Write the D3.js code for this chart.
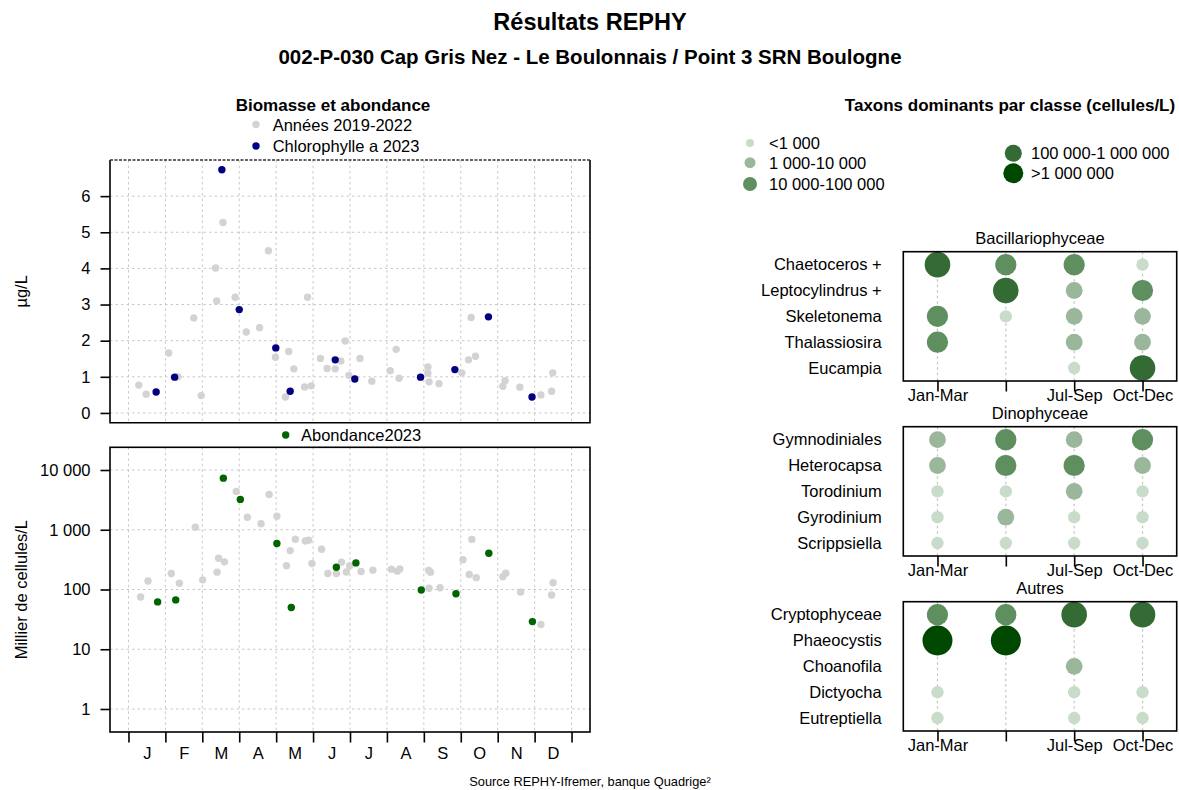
<!DOCTYPE html>
<html><head><meta charset="utf-8">
<script src="https://cdn.jsdelivr.net/npm/d3@7"></script>
<style>
body{margin:0;background:#fff}
svg{display:block}
text{font-family:"Liberation Sans",Arial,Helvetica,sans-serif;fill:#000}
</style>
</head><body>
<svg id="c" width="1179" height="790"></svg>
<script>
// ---------------- DATA ----------------
const monthLabels = ["J","F","M","A","M","J","J","A","S","O","N","D"];

// [month position (0 = 1 Jan, 12 = 31 Dec), chlorophyll a µg/L]
const chlHistory = [[0.28,0.77],[0.48,0.52],[1.09,1.66],[1.34,1.00],[1.77,2.63],[1.97,0.48],[2.36,4.01],[2.39,3.10],[2.56,5.27],[2.89,3.20],[3.19,2.24],[3.55,2.36],[3.79,4.49],[3.98,1.54],[4.25,0.44],[4.34,1.70],[4.48,1.22],[4.77,0.72],[4.85,3.20],[4.95,0.75],[5.20,1.51],[5.38,1.23],[5.60,1.22],[5.75,1.44],[5.87,1.99],[5.97,1.04],[6.27,1.51],[6.59,0.88],[7.09,1.17],[7.25,1.76],[7.33,0.96],[8.11,1.27],[8.11,1.10],[8.14,0.86],[8.41,0.81],[9.03,1.11],[9.21,1.47],[9.28,2.64],[9.40,1.57],[10.14,0.74],[10.20,0.89],[10.60,0.71],[11.17,0.50],[11.46,0.60],[11.49,1.11]];
const chl2023 = [[0.75,0.58],[1.25,0.99],[2.53,6.73],[3.00,2.86],[3.99,1.80],[4.38,0.60],[5.60,1.47],[6.13,0.94],[7.91,0.99],[8.84,1.20],[9.75,2.66],[10.93,0.44]];

// [month position, abundance (milliers de cellules/L)]
const abundHistory = [[0.33,75],[0.53,139],[1.16,185],[1.38,127],[1.81,1100],[2.01,145],[2.40,195],[2.44,333],[2.60,290],[2.92,4360],[3.22,1620],[3.59,1260],[3.81,3880],[4.02,1690],[4.28,250],[4.38,448],[4.52,693],[4.79,650],[4.88,670],[4.97,272],[5.23,473],[5.40,185],[5.63,185],[5.77,287],[5.90,196],[5.99,250],[6.30,200],[6.62,211],[7.12,219],[7.28,203],[7.35,221],[8.13,208],[8.18,195],[8.14,105],[8.44,107],[9.06,315],[9.30,690],[9.23,178],[9.42,158],[10.14,163],[10.22,187],[10.62,91],[11.17,26],[11.46,81],[11.50,130]];
const abund2023 = [[0.79,62],[1.28,67],[2.57,7300],[3.03,3220],[4.02,590],[4.41,50],[5.63,236],[6.16,279],[7.93,98],[8.87,85],[9.76,405],[10.94,29]];

const chlTicks = [0,1,2,3,4,5,6];
const abundTicks = [1,10,100,1000,10000];

// Dominant taxa: abundance class per quarter (0 = absent, 1..5 = classes)
const quarters = ["Jan-Mar","Apr-Jun","Jul-Sep","Oct-Dec"];
const classLabels = ["<1 000","1 000-10 000","10 000-100 000","100 000-1 000 000",">1 000 000"];

const bacTaxa = ["Chaetoceros +","Leptocylindrus +","Skeletonema","Thalassiosira","Eucampia"];
const bacClasses = [[4,3,3,1],[0,4,2,3],[3,1,2,2],[3,0,2,2],[0,0,1,4]];
const dinoTaxa = ["Gymnodiniales","Heterocapsa","Torodinium","Gyrodinium","Scrippsiella"];
const dinoClasses = [[2,3,2,3],[2,3,3,2],[1,1,2,1],[1,2,1,1],[1,1,1,1]];
const autresTaxa = ["Cryptophyceae","Phaeocystis","Choanofila","Dictyocha","Eutreptiella"];
const autresClasses = [[3,3,4,4],[5,5,0,0],[0,0,2,0],[1,0,1,1],[1,0,1,1]];
const groupNames = ["Bacillariophyceae","Dinophyceae","Autres"];

// ---------------- DRAWING ----------------
const svg = d3.select("#c");
const FS = 16.5;
const gridCol = "#c8c8c8";
const classColor = d3.scaleOrdinal().domain([1,2,3,4,5]).range(["#c9dbc9","#9bb79b","#5f8f5f","#346b34","#004800"]);
const classR = d3.scaleOrdinal().domain([1,2,3,4,5]).range([6.2,8.4,10.6,12.8,15]);
const legendR = d3.scaleOrdinal().domain([1,2,3,4,5]).range([4,5.5,7,8.5,10]);

// Titles
svg.append("text").attr("x",590).attr("y",30).attr("text-anchor","middle")
  .attr("font-weight","bold").attr("font-size",23.5).text("Résultats REPHY");
svg.append("text").attr("x",590).attr("y",64).attr("text-anchor","middle")
  .attr("font-weight","bold").attr("font-size",20.5).text("002-P-030 Cap Gris Nez - Le Boulonnais / Point 3 SRN Boulogne");
svg.append("text").attr("x",590).attr("y",785.5).attr("text-anchor","middle")
  .attr("font-size",12.8).text("Source REPHY-Ifremer, banque Quadrige²");

// ---- Left panels ----
const L = 110, R = 590;
const xM = d3.scaleLinear().domain([-0.5,12.5]).range([L,R]);
const topT = 160, topB = 422.7;
const botT = 447.3, botB = 732;
const yChl = d3.scaleLinear().domain([-0.27,7.0]).range([topB,topT]);
const yAb = d3.scaleLog().domain([Math.pow(10,-0.385),Math.pow(10,4.38)]).range([botB,botT]);
const monthBounds = d3.range(13);

function vGrid(t,b){
  svg.append("g").selectAll("line").data(monthBounds).join("line")
    .attr("x1",d=>xM(d)).attr("x2",d=>xM(d)).attr("y1",t).attr("y2",b)
    .attr("stroke",gridCol).attr("stroke-width",1).attr("stroke-dasharray","2.5,3");
}
function hGrid(vals,scale){
  svg.append("g").selectAll("line").data(vals).join("line")
    .attr("x1",L).attr("x2",R).attr("y1",d=>scale(d)).attr("y2",d=>scale(d))
    .attr("stroke",gridCol).attr("stroke-width",1).attr("stroke-dasharray","2.5,3");
}
function styleAxis(g){
  g.select(".domain").remove();
  g.selectAll("text").attr("font-size",FS).attr("font-family",null);
  g.selectAll("line").attr("stroke","#000").attr("stroke-width",1.6);
  g.attr("font-family",null);
}

// Top: chlorophyll
vGrid(topT,topB); hGrid(chlTicks,yChl);
svg.append("g").selectAll("circle").data(chlHistory).join("circle")
  .attr("cx",d=>xM(d[0])).attr("cy",d=>yChl(d[1])).attr("r",3.7).attr("fill","#d3d3d3");
svg.append("g").selectAll("circle").data(chl2023).join("circle")
  .attr("cx",d=>xM(d[0])).attr("cy",d=>yChl(d[1])).attr("r",3.7).attr("fill","#000080");
// box (top edge dashed)
const bx = svg.append("g").attr("stroke","#000").attr("stroke-width",1.6).attr("fill","none");
bx.append("path").attr("d",`M${L},${topT}V${topB}H${R}V${topT}`);
bx.append("line").attr("x1",L).attr("x2",R).attr("y1",topT).attr("y2",topT)
  .attr("stroke","#333").attr("stroke-width",1.3).attr("stroke-dasharray","3,1.5");
svg.append("g").attr("transform",`translate(${L},0)`)
  .call(d3.axisLeft(yChl).tickValues(chlTicks).tickSize(9.5).tickPadding(10).tickFormat(d3.format("d")))
  .call(styleAxis);
svg.append("text").attr("transform",`translate(27,${(topT+topB)/2}) rotate(-90)`)
  .attr("text-anchor","middle").attr("font-size",FS).text("µg/L");

// legend top
svg.append("text").attr("x",333).attr("y",111).attr("text-anchor","middle")
  .attr("font-weight","bold").attr("font-size",17).text("Biomasse et abondance");
svg.append("circle").attr("cx",256).attr("cy",124.5).attr("r",3.7).attr("fill","#d3d3d3");
svg.append("text").attr("x",272.7).attr("y",131).attr("font-size",FS).text("Années 2019-2022");
svg.append("circle").attr("cx",256).attr("cy",146).attr("r",3.7).attr("fill","#000080");
svg.append("text").attr("x",272.7).attr("y",152).attr("font-size",FS).text("Chlorophylle a 2023");

// Bottom: abundance
vGrid(botT,botB); hGrid(abundTicks,yAb);
svg.append("g").selectAll("circle").data(abundHistory).join("circle")
  .attr("cx",d=>xM(d[0])).attr("cy",d=>yAb(d[1])).attr("r",3.7).attr("fill","#d3d3d3");
svg.append("g").selectAll("circle").data(abund2023).join("circle")
  .attr("cx",d=>xM(d[0])).attr("cy",d=>yAb(d[1])).attr("r",3.7).attr("fill","#006400");
svg.append("rect").attr("x",L).attr("y",botT).attr("width",R-L).attr("height",botB-botT)
  .attr("fill","none").attr("stroke","#000").attr("stroke-width",1.6);
svg.append("g").attr("transform",`translate(${L},0)`)
  .call(d3.axisLeft(yAb).tickValues(abundTicks).tickSize(9.5).tickPadding(10)
    .tickFormat(d=>d3.format(",")(d).replace(/,/g," ")))
  .call(styleAxis);
svg.append("text").attr("transform",`translate(27,${(botT+botB)/2}) rotate(-90)`)
  .attr("text-anchor","middle").attr("font-size",FS).text("Millier de cellules/L");
// x axis ticks + month labels
svg.append("g").attr("transform",`translate(0,${botB})`)
  .call(d3.axisBottom(xM).tickValues(monthBounds).tickSize(10.5).tickFormat(""))
  .call(styleAxis);
const mAx = svg.append("g").attr("transform",`translate(0,${botB})`)
  .call(d3.axisBottom(xM).tickValues(d3.range(12).map(i=>i+0.5)).tickSize(0)
    .tickFormat((d,i)=>monthLabels[i]))
  .call(styleAxis);
mAx.selectAll("line").remove();
mAx.selectAll("text").attr("y",27).attr("dy",0);

svg.append("circle").attr("cx",285.7).attr("cy",435).attr("r",3.7).attr("fill","#006400");
svg.append("text").attr("x",301).attr("y",441).attr("font-size",FS).text("Abondance2023");

// ---- Right panels ----
svg.append("text").attr("x",1010).attr("y",111).attr("text-anchor","middle")
  .attr("font-weight","bold").attr("font-size",17).text("Taxons dominants par classe (cellules/L)");
// legend
const legPos = [[750,143,769],[750,162.7,769],[750,184,769],[1013.3,153.3,1031],[1013.3,173.3,1031]];
classLabels.forEach((lab,i)=>{
  const p = legPos[i];
  svg.append("circle").attr("cx",p[0]).attr("cy",p[1]).attr("r",legendR(i+1)).attr("fill",classColor(i+1));
  svg.append("text").attr("x",p[2]).attr("y",p[1]+6).attr("font-size",FS).text(lab);
});

const xQ = d3.scaleLinear().domain([0.5,4.5]).range([903.3,1176.7]);
const panels = [[bacTaxa,bacClasses],[dinoTaxa,dinoClasses],[autresTaxa,autresClasses]];
panels.forEach((pn,gi)=>{
  const taxa = pn[0], cls = pn[1];
  const t = 251.7 + gi*175, b = t + 129.3;
  const yR = d3.scaleLinear().domain([0.5,5.5]).range([t,b]);
  const g = svg.append("g");
  // dotted column lines
  g.selectAll("line.col").data([1,2,3,4]).join("line").attr("class","col")
    .attr("x1",d=>xQ(d)).attr("x2",d=>xQ(d)).attr("y1",t).attr("y2",b)
    .attr("stroke","#c4c4c4").attr("stroke-width",1.2).attr("stroke-dasharray","2.5,3");
  const pts = [];
  cls.forEach((row,ri)=>row.forEach((c,qi)=>{ if(c>0) pts.push({r:ri+1,q:qi+1,c:c}); }));
  g.selectAll("circle").data(pts).join("circle")
    .attr("cx",d=>xQ(d.q)).attr("cy",d=>yR(d.r)).attr("r",d=>classR(d.c)).attr("fill",d=>classColor(d.c));
  g.append("rect").attr("x",xQ(0.5)).attr("y",t).attr("width",xQ(4.5)-xQ(0.5)).attr("height",b-t)
    .attr("fill","none").attr("stroke","#000").attr("stroke-width",1.6);
  // row labels
  g.append("g").attr("transform",`translate(${xQ(0.5)},0)`)
    .call(d3.axisLeft(yR).tickValues([1,2,3,4,5]).tickSize(0).tickPadding(21.6).tickFormat((d,i)=>taxa[i]))
    .call(styleAxis);
  // quarter axis (R drops the overlapping "Apr-Jun" label)
  const qa = g.append("g").attr("transform",`translate(0,${b})`)
    .call(d3.axisBottom(xQ).tickValues([1,2,3,4]).tickSize(10.5)
      .tickFormat((d,i)=> i===1 ? "" : quarters[i]))
    .call(styleAxis);
  qa.selectAll("text").attr("y",20).attr("dy",0);
  g.append("text").attr("x",(xQ(0.5)+xQ(4.5))/2).attr("y",t-7.4).attr("text-anchor","middle")
    .attr("font-size",FS).text(groupNames[gi]);
});
</script>
</body></html>
